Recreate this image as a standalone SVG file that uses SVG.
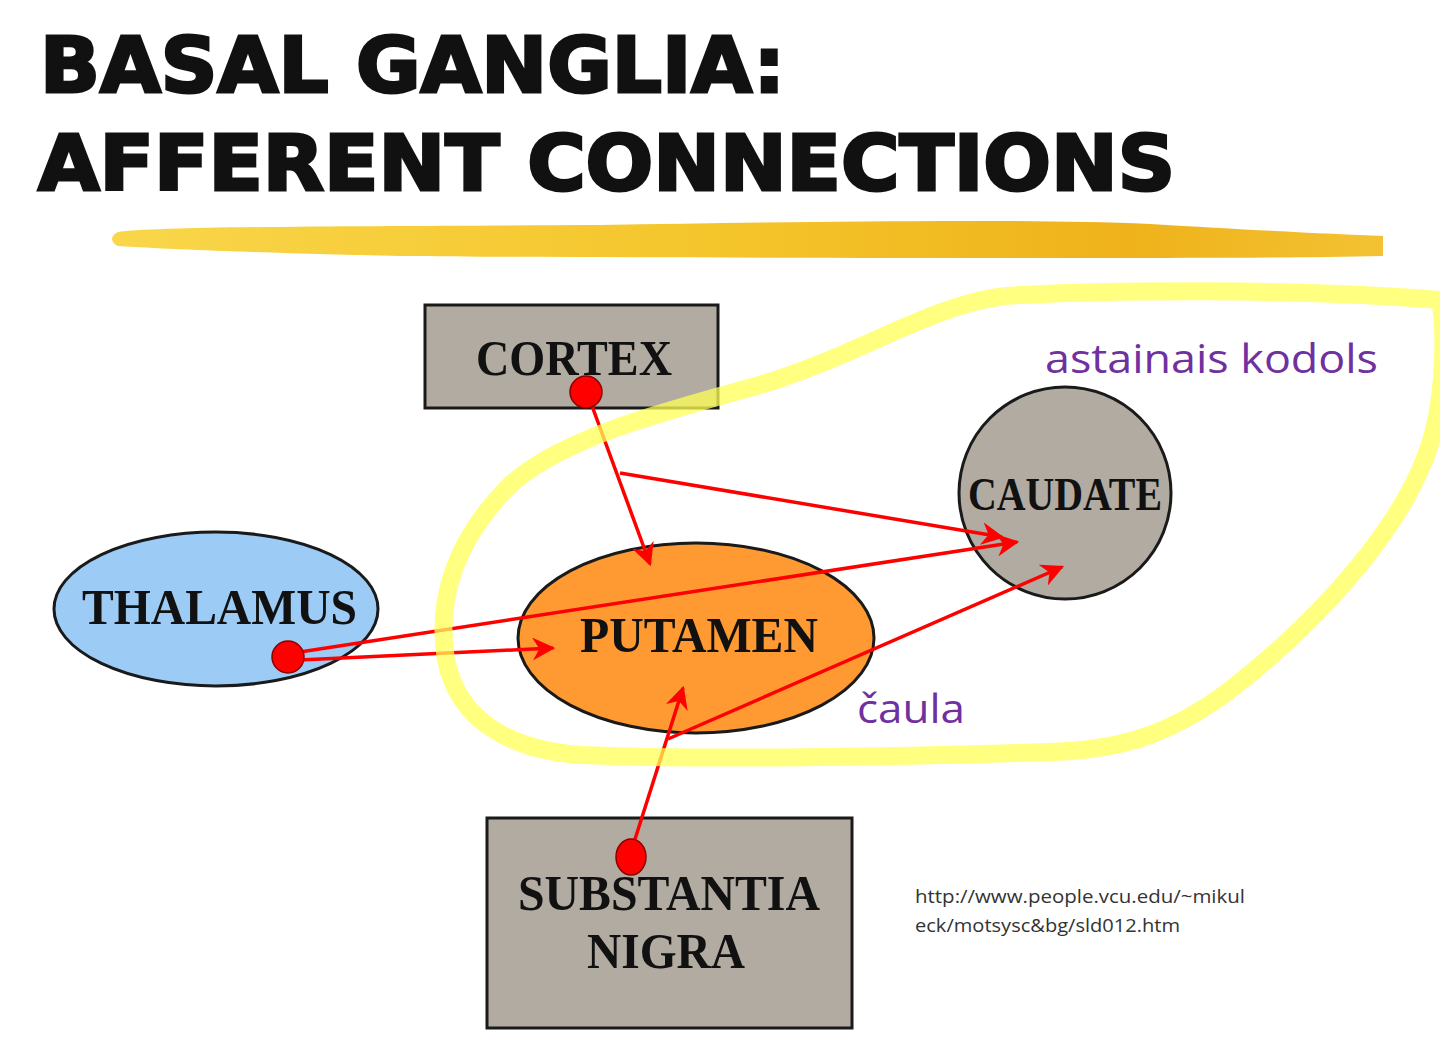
<svg xmlns="http://www.w3.org/2000/svg" width="1440" height="1059" viewBox="0 0 1440 1059">
<style>
.title{font-family:"DejaVu Sans","Liberation Sans",sans-serif;font-weight:bold;font-size:76px;fill:#111;stroke:#111;stroke-width:3}
.lbl{font-family:"Liberation Serif","Times New Roman",serif;font-weight:bold;fill:#111;text-anchor:start}
.box{fill:#B1ABA2;stroke:#1a1a1a;stroke-width:3}
.conn{stroke:#FF0000;fill:none;stroke-width:3.5}
.dot{fill:#FF0000;stroke:#8a0000;stroke-width:1.5}
.purple{font-family:"Open Sans","Noto Sans",sans-serif;fill:#7030A0;font-size:41px}
.url{font-family:"Open Sans","Noto Sans",sans-serif;fill:#333;font-size:18px}
</style>
<defs>
<marker id="ah" viewBox="0 0 10 10" refX="9" refY="5" markerWidth="6.5" markerHeight="6.5" markerUnits="strokeWidth" orient="auto">
<path d="M0,0 L10,5 L0,10 L3,5 Z" fill="#FF0000"/>
</marker>
<linearGradient id="gold" x1="0" y1="0" x2="1" y2="0">
<stop offset="0" stop-color="#F9D64A"/>
<stop offset="0.5" stop-color="#F4C42A"/>
<stop offset="0.8" stop-color="#EFB21A"/>
<stop offset="1" stop-color="#F3C233"/>
</linearGradient>
</defs>
<rect width="1440" height="1059" fill="#fff"/>
<g id="title">
<text class="title" x="40" y="92" textLength="745" lengthAdjust="spacingAndGlyphs">BASAL GANGLIA:</text>
<text class="title" x="38" y="190" textLength="1137" lengthAdjust="spacingAndGlyphs">AFFERENT CONNECTIONS</text>
<path d="M118,232 C160,226 400,226 600,225 C800,222 1000,218 1150,224 C1250,230 1330,234 1383,236 L1383,256 C1300,258 1200,258 1100,258 C900,258 600,258 400,256 C300,254 180,250 118,246 C110,242 110,236 118,232 Z" fill="url(#gold)"/>
</g>
<g id="cortex">
<rect class="box" x="425" y="305" width="293" height="103"/>
<text class="lbl" x="476" y="375" font-size="50" textLength="196" lengthAdjust="spacingAndGlyphs">CORTEX</text>
</g>
<g id="thalamus">
<ellipse cx="216" cy="609" rx="162" ry="77" fill="#9CCBF6" stroke="#1a1a1a" stroke-width="3"/>
<text class="lbl" x="82" y="624" font-size="50" textLength="275" lengthAdjust="spacingAndGlyphs">THALAMUS</text>
</g>
<g id="putamen">
<ellipse cx="696" cy="638" rx="178" ry="95" fill="#FF9A33" stroke="#1a1a1a" stroke-width="3"/>
<text class="lbl" x="580" y="652" font-size="50" textLength="238" lengthAdjust="spacingAndGlyphs">PUTAMEN</text>
</g>
<g id="caudate">
<circle cx="1065" cy="493" r="106" fill="#B1ABA2" stroke="#1a1a1a" stroke-width="3"/>
<text class="lbl" x="968" y="510" font-size="46" textLength="194" lengthAdjust="spacingAndGlyphs">CAUDATE</text>
</g>
<g id="substantia-nigra">
<rect class="box" x="487" y="818" width="365" height="210"/>
<text class="lbl" x="518" y="910" font-size="50" textLength="302" lengthAdjust="spacingAndGlyphs">SUBSTANTIA</text>
<text class="lbl" x="587" y="968" font-size="50" textLength="158" lengthAdjust="spacingAndGlyphs">NIGRA</text>
</g>
<g id="connectors">
<line class="conn" x1="588" y1="395" x2="650" y2="564" marker-end="url(#ah)"/>
<line class="conn" x1="620" y1="473" x2="1002" y2="537" marker-end="url(#ah)" stroke-width="3"/>
<line class="conn" x1="300" y1="652" x2="1017" y2="542" marker-end="url(#ah)" stroke-width="4.5"/>
<line class="conn" x1="300" y1="660" x2="553" y2="648" marker-end="url(#ah)" stroke-width="4"/>
<line class="conn" x1="630" y1="855" x2="683" y2="688" marker-end="url(#ah)" stroke-width="3"/>
<line class="conn" x1="668" y1="739" x2="1062" y2="567" marker-end="url(#ah)" stroke-width="4"/>
<circle class="dot" cx="586" cy="392" r="16"/>
<ellipse class="dot" cx="288" cy="657" rx="16" ry="16"/>
<ellipse class="dot" cx="631" cy="857" rx="15" ry="18"/>
</g>
<g id="outline">
<path d="M1005,296 C1100,290 1300,288 1440,300 M1440,300 C1446,330 1444,390 1434,430 C1412,520 1320,620 1230,690 C1170,735 1120,750 1050,752 C900,757 700,760 580,755 C510,750 458,720 446,660 C436,600 455,540 510,485 C560,440 650,415 760,385 C860,355 930,305 1005,296" fill="none" stroke="#FFFF55" stroke-opacity="0.75" stroke-width="18" stroke-linejoin="round"/>
</g>
<g id="labels">
<text class="purple" x="1045" y="373" textLength="333" lengthAdjust="spacingAndGlyphs">astainais kodols</text>
<text class="purple" x="857" y="723" textLength="108" lengthAdjust="spacingAndGlyphs">čaula</text>
<text class="url" x="915" y="903" textLength="330" lengthAdjust="spacingAndGlyphs">http://www.people.vcu.edu/~mikul</text>
<text class="url" x="915" y="932" textLength="265" lengthAdjust="spacingAndGlyphs">eck/motsysc&amp;bg/sld012.htm</text>
</g>
</svg>
